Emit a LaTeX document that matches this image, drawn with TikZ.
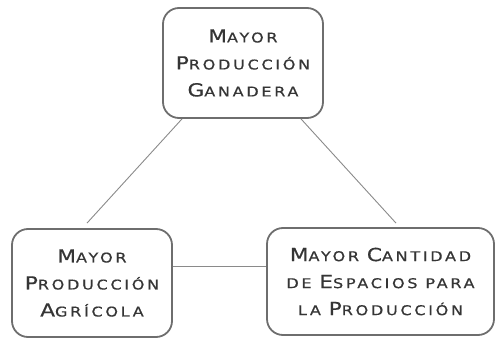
\documentclass[tikz,border=0pt]{standalone}
\usepackage{fontspec}
\newfontfamily\boxfont[FakeStretch=1.2,LetterSpace=20,FakeBold=0.6]{DejaVu Sans}
\newcommand\BigL[1]{{\fontsize{18}{27}\selectfont #1}}
\newcommand\SmL[1]{{\fontsize{13.4}{27}\selectfont #1}}
\definecolor{boxline}{HTML}{6E6E6E}
\definecolor{conn}{HTML}{8A8A8A}
\definecolor{txt}{HTML}{353535}
\tikzset{
  rbox/.style={draw=boxline, line width=1.8pt, rounded corners=16pt, inner sep=0pt,
    align=center, text=txt, font=\boxfont\fontsize{13.4}{27}\selectfont},
  conline/.style={draw=conn, line width=0.9pt}
}
\begin{document}
\begin{tikzpicture}[x=1pt,y=-1pt]
\useasboundingbox (0,0) rectangle (495,339);
\node[rbox, minimum width=160pt, minimum height=110pt] (top) at (243,63)
  {\BigL{M}\SmL{AYOR}\\\BigL{P}\SmL{RODUCCIÓN}\\\BigL{G}\SmL{ANADERA}};
\node[rbox, minimum width=160pt, minimum height=108pt] (left) at (92,283)
  {\BigL{M}\SmL{AYOR}\\\BigL{P}\SmL{RODUCCIÓN}\\\BigL{A}\SmL{GRÍCOLA}};
\node[rbox, minimum width=227pt, minimum height=107pt] (right) at (380.5,281.5)
  {\BigL{M}\SmL{AYOR} \BigL{C}\SmL{ANTIDAD}\\\SmL{DE} \BigL{E}\SmL{SPACIOS PARA}\\\SmL{LA} \BigL{P}\SmL{RODUCCIÓN}};
\draw[conline] ([xshift=-61pt]top.south) -- ([xshift=-5pt,yshift=5pt]left.north);
\draw[conline] ([xshift=58pt]top.south) -- ([xshift=15.5pt,yshift=4pt]right.north);
\coordinate (h) at ([yshift=17pt]left.east);
\draw[conline] (h) -- (h -| right.west);
\end{tikzpicture}
\end{document}
